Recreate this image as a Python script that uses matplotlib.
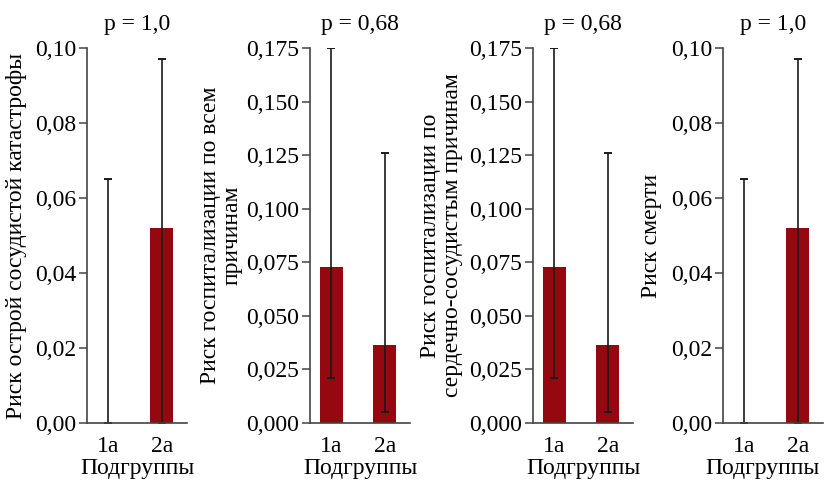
import numpy as np
import matplotlib.pyplot as plt

plt.rcParams['font.family'] = ['Liberation Serif', 'DejaVu Serif']

groups = ['1a', '2a']

# риск и границы доверительного интервала для каждой панели
risk_acute = [0.0, 0.052]
low_acute = [0.0, 0.0]
high_acute = [0.065, 0.097]

risk_hosp_all = [0.073, 0.0365]
low_hosp_all = [0.021, 0.005]
high_hosp_all = [0.175, 0.126]

risk_hosp_cv = [0.073, 0.0365]
low_hosp_cv = [0.021, 0.005]
high_hosp_cv = [0.175, 0.126]

risk_death = [0.0, 0.052]
low_death = [0.0, 0.0]
high_death = [0.065, 0.097]

p_values = ['p = 1,0', 'p = 0,68', 'p = 0,68', 'p = 1,0']
ylabels = ['Риск острой сосудистой катастрофы',
           'Риск госпитализации по всем\nпричинам',
           'Риск госпитализации по\nсердечно-сосудистым причинам',
           'Риск смерти']
ymax = [0.10, 0.175, 0.175, 0.10]
yticks = [np.arange(0, 0.101, 0.02), np.arange(0, 0.176, 0.025),
          np.arange(0, 0.176, 0.025), np.arange(0, 0.101, 0.02)]
decimals = [2, 3, 3, 2]

panels = [(risk_acute, low_acute, high_acute),
          (risk_hosp_all, low_hosp_all, high_hosp_all),
          (risk_hosp_cv, low_hosp_cv, high_hosp_cv),
          (risk_death, low_death, high_death)]

lefts = [87, 310, 533, 723]
label_x = [-0.60, -0.67, -0.70, -0.61]
xlabel_x = [0.5, 0.5, 0.5, 0.39]

fig = plt.figure(figsize=(8.24, 4.82), dpi=100)
W, H = 824, 482

for i, (risk, lo, hi) in enumerate(panels):
    ax = fig.add_axes([lefts[i] / W, 59 / H, 100 / W, 375 / H])
    x = np.arange(len(groups))
    risk = np.array(risk)
    yerr = [risk - np.array(lo), np.array(hi) - risk]
    ax.bar(x, risk, width=0.43, color='#960810')
    ax.errorbar(x, risk, yerr=yerr, fmt='none', ecolor='#1a1a1a',
                elinewidth=1.2, capsize=3, capthick=1.4)
    ax.set_xlim(-0.4, 1.47)
    ax.set_ylim(0, ymax[i])
    ax.set_yticks(yticks[i])
    ax.set_yticklabels([f'{v:.{decimals[i]}f}'.replace('.', ',') for v in yticks[i]])
    ax.set_xticks(x)
    ax.set_xticklabels(groups)
    for s in ['top', 'right']:
        ax.spines[s].set_visible(False)
    for s in ['left', 'bottom']:
        ax.spines[s].set_color('#444444')
        ax.spines[s].set_linewidth(1.2)
    ax.tick_params(axis='y', length=6, width=1.1, color='#444444', labelsize=17, pad=2)
    ax.tick_params(axis='x', length=0, labelsize=17, pad=9)
    ax.set_title(p_values[i], fontsize=17, pad=13)
    ax.set_xlabel('Подгруппы', fontsize=17)
    ax.xaxis.set_label_coords(xlabel_x[i], -0.093)
    ax.set_ylabel(ylabels[i], fontsize=17, linespacing=1.05)
    ax.yaxis.set_label_coords(label_x[i], 0.5)

fig.savefig('out.png', dpi=100)
